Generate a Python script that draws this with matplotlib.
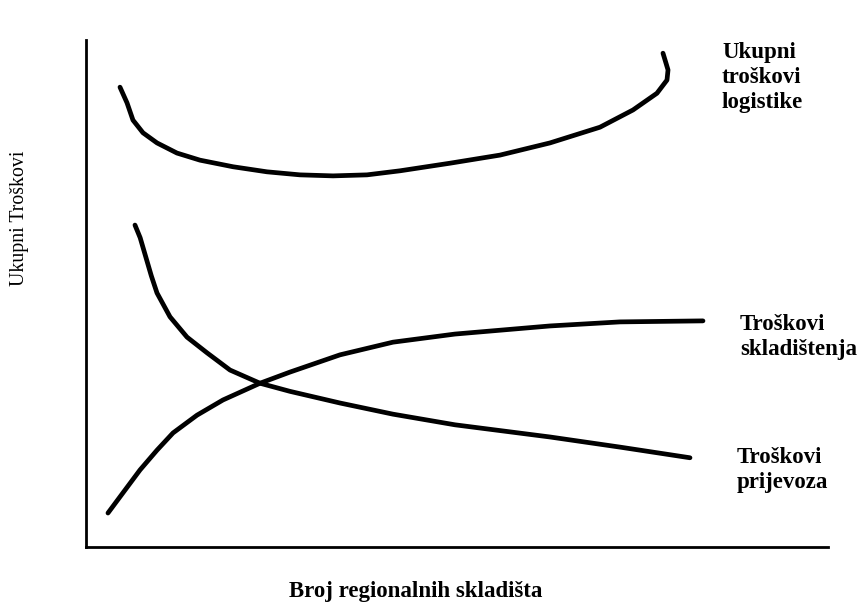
import matplotlib
matplotlib.use("Agg")
import matplotlib.pyplot as plt

# Values (x: number of regional warehouses, y: cost), arbitrary units 0-10
total_x = [0.458, 0.553, 0.633, 0.768, 0.957, 1.226, 1.536, 1.981, 2.439, 2.884, 3.329, 3.787,
           4.232, 4.906, 5.580, 6.253, 6.927, 7.372, 7.695, 7.830, 7.844, 7.803, 7.776]
total_y = [9.07, 8.76, 8.42, 8.17, 7.97, 7.77, 7.63, 7.50, 7.40, 7.34, 7.32, 7.34,
           7.42, 7.57, 7.73, 7.97, 8.28, 8.62, 8.95, 9.21, 9.41, 9.61, 9.74]

transport_x = [0.660, 0.730, 0.800, 0.880, 0.957, 1.132, 1.361, 1.631, 1.941, 2.345, 2.749, 3.423,
               4.137, 4.973, 6.253, 7.197, 8.140]
transport_y = [6.35, 6.10, 5.75, 5.35, 5.01, 4.54, 4.14, 3.83, 3.49, 3.23, 3.07, 2.84,
               2.62, 2.41, 2.17, 1.97, 1.76]

storage_x = [0.296, 0.499, 0.728, 0.957, 1.173, 1.496, 1.846, 2.345, 2.749, 3.423, 4.137,
             4.973, 6.253, 7.197, 8.315]
storage_y = [0.67, 1.07, 1.52, 1.91, 2.25, 2.60, 2.90, 3.23, 3.45, 3.79, 4.04,
             4.20, 4.36, 4.44, 4.46]

labels = ["Ukupni\ntroškovi\nlogistike", "Troškovi\nskladištenja", "Troškovi\nprijevoza"]
x_title = "Broj regionalnih skladišta"
y_title = "Ukupni Troškovi"

W, H = 859, 603
fig = plt.figure(figsize=(W / 100, H / 100), dpi=100)
ax = fig.add_axes([86 / W, (H - 547) / H, (828 - 86) / W, (547 - 40) / H])
ax.set_xlim(0, 10)
ax.set_ylim(0, 10)

lw = 3.4
for xs, ys in [(total_x, total_y), (transport_x, transport_y), (storage_x, storage_y)]:
    ax.plot(xs, ys, color="black", lw=lw, solid_capstyle="round", solid_joinstyle="round")

for s in ["top", "right"]:
    ax.spines[s].set_visible(False)
ax.spines["left"].set_linewidth(2.0)
ax.spines["bottom"].set_linewidth(2.0)
ax.set_xticks([])
ax.set_yticks([])

font = dict(family=["Liberation Serif", "DejaVu Serif"], fontweight="bold", fontsize=16.5)
fig.text(722 / W, 1 - 42 / H, labels[0], ha="left", va="top", linespacing=1.25, **font)
fig.text(740 / W, 1 - 337 / H, labels[1], ha="left", va="center", linespacing=1.25, **font)
fig.text(737 / W, 1 - 470 / H, labels[2], ha="left", va="center", linespacing=1.25, **font)

fig.text(416 / W, 1 - 592 / H, x_title, ha="center", va="center", **font)
fig.text(20 / W, 1 - 218 / H, y_title, ha="center", va="center", rotation=90,
         family=["Liberation Serif", "DejaVu Serif"], fontsize=14.3)

fig.savefig("out.png", dpi=100, facecolor="white")
